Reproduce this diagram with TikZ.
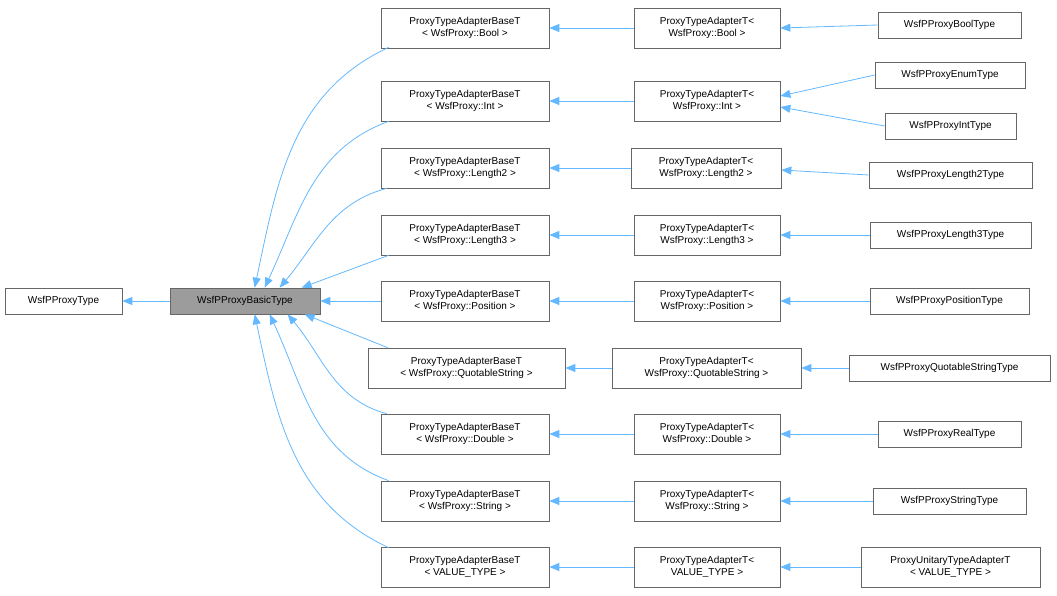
\documentclass[tikz,border=0pt]{standalone}
\usepackage{fontspec}
\setmainfont{Liberation Sans}
\usetikzlibrary{arrows.meta,calc}
\definecolor{edge}{HTML}{63B8FF}
\definecolor{bord}{HTML}{666666}
\begin{document}
\begin{tikzpicture}[x=1pt,y=-1pt,
  box/.style={draw=bord,fill=white,inner sep=0pt,align=center,font=\fontsize{10}{12}\selectfont,line width=0.7pt},
  inh/.style={draw=edge,line width=0.8pt,-{Triangle[length=10pt,width=8pt]}}]
\useasboundingbox (0,0) rectangle (1057,595);
\def\B#1#2#3#4#5#6{\node[box,minimum width=#4,minimum height=#5] (#1) at (#2,#3) {#6};}
\B{type}{63.5}{301}{117}{26}{WsfPProxyType}
\node[box,fill=bord!65,minimum width=150,minimum height=26] (basic) at (245,301) {WsfPProxyBasicType};
% column 2
\B{b1}{465}{28}{168}{40}{ProxyTypeAdapterBaseT\\< WsfProxy::Bool >}
\B{b2}{465}{101}{168}{40}{ProxyTypeAdapterBaseT\\< WsfProxy::Int >}
\B{b3}{465}{168}{168}{40}{ProxyTypeAdapterBaseT\\< WsfProxy::Length2 >}
\B{b4}{465}{235}{168}{40}{ProxyTypeAdapterBaseT\\< WsfProxy::Length3 >}
\B{b5}{465}{301}{168}{40}{ProxyTypeAdapterBaseT\\< WsfProxy::Position >}
\B{b6}{466.5}{368}{197}{40}{ProxyTypeAdapterBaseT\\< WsfProxy::QuotableString >}
\B{b7}{465}{434}{168}{40}{ProxyTypeAdapterBaseT\\< WsfProxy::Double >}
\B{b8}{465}{501}{168}{40}{ProxyTypeAdapterBaseT\\< WsfProxy::String >}
\B{b9}{465}{567}{168}{40}{ProxyTypeAdapterBaseT\\< VALUE\_TYPE >}
% column 3
\B{c1}{707}{28}{146}{40}{ProxyTypeAdapterT<\\WsfProxy::Bool >}
\B{c2}{707}{101}{146}{40}{ProxyTypeAdapterT<\\WsfProxy::Int >}
\B{c3}{706}{168}{150}{40}{ProxyTypeAdapterT<\\WsfProxy::Length2 >}
\B{c4}{707}{235}{146}{40}{ProxyTypeAdapterT<\\WsfProxy::Length3 >}
\B{c5}{707}{301}{146}{40}{ProxyTypeAdapterT<\\WsfProxy::Position >}
\B{c6}{706.5}{368}{189}{40}{ProxyTypeAdapterT<\\WsfProxy::QuotableString >}
\B{c7}{707}{434}{146}{40}{ProxyTypeAdapterT<\\WsfProxy::Double >}
\B{c8}{707}{501}{146}{40}{ProxyTypeAdapterT<\\WsfProxy::String >}
\B{c9}{707}{567}{146}{40}{ProxyTypeAdapterT<\\VALUE\_TYPE >}
% column 4
\B{d1}{949.5}{25}{143}{26}{WsfPProxyBoolType}
\B{d2a}{950}{75}{150}{26}{WsfPProxyEnumType}
\B{d2b}{950.5}{126}{131}{26}{WsfPProxyIntType}
\B{d3}{950.5}{175}{163}{26}{WsfPProxyLength2Type}
\B{d4}{950.5}{235}{161}{26}{WsfPProxyLength3Type}
\B{d5}{949.5}{301}{159}{26}{WsfPProxyPositionType}
\B{d6}{949.5}{368}{201}{26}{WsfPProxyQuotableStringType}
\B{d7}{949.5}{434}{143}{26}{WsfPProxyRealType}
\B{d8}{949.5}{501}{153}{26}{WsfPProxyStringType}
\B{d9}{950.5}{567}{179}{40}{ProxyUnitaryTypeAdapterT\\< VALUE\_TYPE >}
% edges
\draw[inh] (basic.west) -- (type.east);
\draw[inh] (b1.south west) ++(8,-1) to[out=205,in=78] ($(basic.north west)+(85,0)$);
\draw[inh] (b2.south west) ++(8,0) to[out=200,in=65] ($(basic.north west)+(95,0)$);
\draw[inh] (b3.south west) ++(6,0) to[out=195,in=50] ($(basic.north west)+(110,0)$);
\draw[inh] (b4.south west) ++(8,0) -- ($(basic.north west)+(132,0)$);
\draw[inh] (b5.west) -- (basic.east);
\draw[inh] (b6.north west) ++(20,0) -- ($(basic.south west)+(135,0)$);
\draw[inh] (b7.north west) ++(6,0) to[out=165,in=-50] ($(basic.south west)+(118,0)$);
\draw[inh] (b8.north west) ++(8,0) to[out=160,in=-65] ($(basic.south west)+(100,0)$);
\draw[inh] (b9.north west) ++(8,1) to[out=155,in=-78] ($(basic.south west)+(85,0)$);
\foreach \i in {1,...,9}{\draw[inh] (c\i.west) -- (b\i.east);}
\draw[inh] (d1.west) -- (c1.east);
\draw[inh] (d2a.west) -- ($(c2.east)+(0,-5)$);
\draw[inh] (d2b.west) -- ($(c2.east)+(0,6)$);
\draw[inh] (d3.west) -- ($(c3.east)+(0,2)$);
\foreach \i in {4,...,9}{\draw[inh] (d\i.west) -- (c\i.east);}
\end{tikzpicture}
\end{document}
